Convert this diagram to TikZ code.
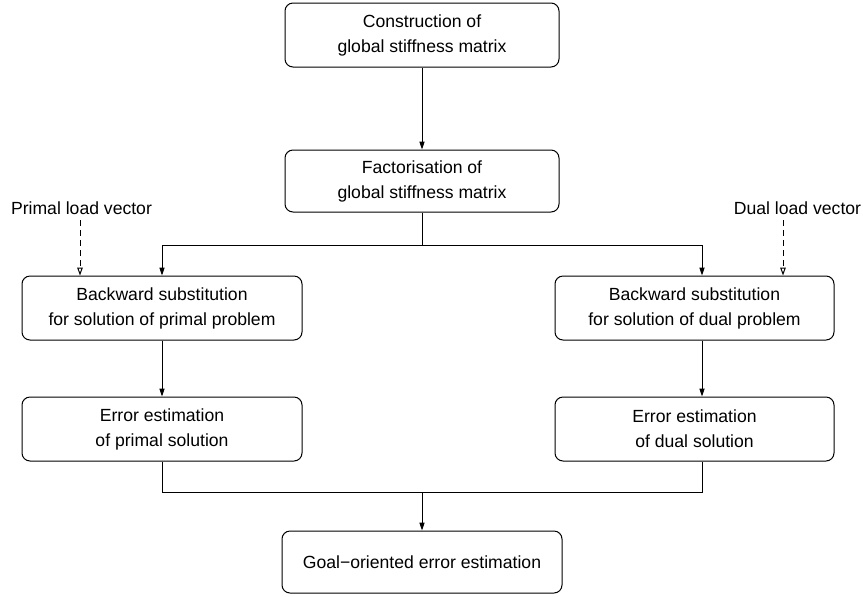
\documentclass[tikz,border=0pt]{standalone}
\usepackage{fontspec}
\setmainfont{Liberation Sans}
\usetikzlibrary{arrows.meta}
\begin{document}
\begin{tikzpicture}[x=0.5pt,y=-0.5pt,
  every node/.style={font=\fontsize{8.8}{12.5}\selectfont},
  stepbox/.style={draw=black,line width=0.5pt,rounded corners=4pt,align=center,
    inner sep=0pt,minimum height=32pt},
  wide/.style={minimum width=140pt},
  mid/.style={minimum width=137pt},
  flow/.style={line width=0.5pt,-{Triangle[length=4pt,width=2.6pt]}},
  link/.style={line width=0.5pt},
  feed/.style={line width=0.5pt,dash pattern=on 3pt off 2pt,
    -{Triangle[open,length=4pt,width=2.8pt,fill=white]}}]
\useasboundingbox (0,0) rectangle (863,596);

\node[stepbox,mid] (cons) at (422,35) {Construction of\\global stiffness matrix};
\node[stepbox,mid,minimum height=31pt] (fact) at (422,181) {Factorisation of\\global stiffness matrix};
\node[stepbox,wide] (bwdP) at (162,308) {Backward substitution\\for solution of primal problem};
\node[stepbox,wide,minimum width=139.5pt] (bwdD) at (694.5,308) {Backward substitution\\for solution of dual problem};
\node[stepbox,wide] (errP) at (162,429) {Error estimation\\of primal solution};
\node[stepbox,wide,minimum width=139.5pt] (errD) at (694.5,429) {Error estimation\\of dual solution};
\node[stepbox,wide,minimum height=31pt] (goal) at (422,562) {Goal−oriented error estimation};

\node (loadP) at (81.5,208) {Primal load vector};
\node (loadD) at (797.5,208) {Dual load vector};

% column axes and junction levels
\coordinate (axisR) at (702,0);
\coordinate (split) at (0,245);
\coordinate (merge) at (0,492);
\coordinate (feedP) at (80,220);
\coordinate (feedD) at (783,220);

\draw[flow] (cons) -- (fact);
\draw[link] (fact.south) -- (fact.south |- split);
\draw[flow] (bwdP.north |- split) -- (bwdP.north);
\draw[flow] (split -| axisR) -- (bwdD.north -| axisR);
\draw[link] (bwdP.north |- split) -- (split -| axisR);

\draw[flow] (bwdP) -- (errP);
\draw[flow] (bwdD.south -| axisR) -- (errD.north -| axisR);

\draw[link] (errP.south) -- (errP.south |- merge) -- (merge -| axisR) -- (errD.south -| axisR);
\draw[flow] (goal.north |- merge) -- (goal.north);

\draw[feed] (feedP) -- (bwdP.north -| feedP);
\draw[feed] (feedD) -- (bwdD.north -| feedD);
\end{tikzpicture}
\end{document}
